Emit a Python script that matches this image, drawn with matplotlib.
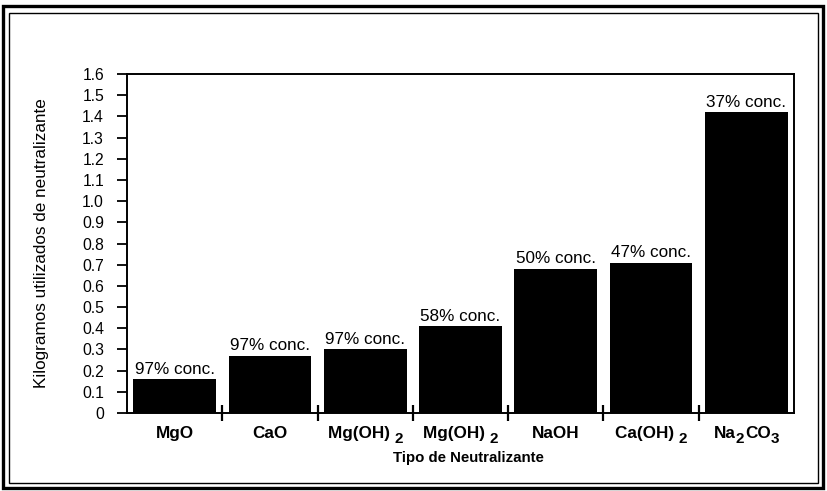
import matplotlib
matplotlib.use("Agg")
import matplotlib.pyplot as plt
from matplotlib.patches import Rectangle
from matplotlib.ticker import FixedLocator
import numpy as np

plt.rcParams['font.family'] = ['Liberation Sans', 'DejaVu Sans']

# "_" marks a subscript character
categories = ['MgO', 'CaO', 'Mg(OH) _2', 'Mg(OH) _2', 'NaOH', 'Ca(OH) _2', 'Na_2CO_3']
values = [0.16, 0.27, 0.30, 0.41, 0.68, 0.71, 1.42]
conc_labels = ['97% conc.', '97% conc.', '97% conc.', '58% conc.', '50% conc.', '47% conc.', '37% conc.']
yticks = [0, 0.1, 0.2, 0.3, 0.4, 0.5, 0.6, 0.7, 0.8, 0.9, 1.0, 1.1, 1.2, 1.3, 1.4, 1.5, 1.6]
ytick_labels = ['0', '0.1', '0.2', '0.3', '0.4', '0.5', '0.6', '0.7', '0.8', '0.9', '1.0',
                '1.1', '1.2', '1.3', '1.4', '1.5', '1.6']

W, H = 827, 491
fig = plt.figure(figsize=(W / 100, H / 100), dpi=100)
AX_L, AX_R, AX_T, AX_B = 127, 794, 74, 413
ax = fig.add_axes([AX_L / W, 1 - AX_B / H, (AX_R - AX_L) / W, (AX_B - AX_T) / H])

x = np.arange(len(categories))
ax.bar(x, values, width=0.867, color='black', edgecolor='black', linewidth=0)

for xi, v, t in zip(x, values, conc_labels):
    ax.text(xi, v + 0.012, t, ha='center', va='bottom', fontsize=12.3)

ax.set_xlim(-0.5, 6.5)
ax.set_ylim(0, 1.6)
ax.set_yticks(yticks)
ax.set_yticklabels(ytick_labels, fontsize=11.3)
ax.tick_params(axis='y', direction='out', length=7.5, width=1.3, pad=9)

ax.set_xticks(x)
ax.set_xticklabels([''] * len(x))
ax.tick_params(axis='x', which='major', length=0)
ax.xaxis.set_minor_locator(FixedLocator(np.arange(0.5, 6.0, 1.0)))
ax.tick_params(axis='x', which='minor', direction='inout', length=12, width=1.6)

for s in ax.spines.values():
    s.set_linewidth(1.4)

ax.set_xlabel('Tipo de Neutralizante', fontsize=10.8, fontweight='bold')
ax.xaxis.set_label_coords((468 - AX_L) / (AX_R - AX_L), -(458 - AX_B) / (AX_B - AX_T))
ax.xaxis.label.set_va('center')
ax.set_ylabel('Kilogramos utilizados de neutralizante', fontsize=12.3)
ax.yaxis.set_label_coords((42 - AX_L) / (AX_R - AX_L), 0.5)
ax.yaxis.label.set_va('center')

# category labels with lowered subscripts, placed in pixel coordinates
fig.canvas.draw()
renderer = fig.canvas.get_renderer()
label_fs = 12.3
sub_fs = 11.0
base_y = H - 438  # baseline in display pixels (from bottom)
for xi, lab in zip(x, categories):
    parts = []
    i = 0
    buf = ''
    while i < len(lab):
        if lab[i] == '_' and i + 1 < len(lab):
            if buf:
                parts.append((buf, False))
                buf = ''
            parts.append((lab[i + 1], True))
            i += 2
        else:
            buf += lab[i]
            i += 1
    if buf:
        parts.append((buf, False))
    texts = []
    widths = []
    for txt, sub in parts:
        t = fig.text(0, 0, txt, fontsize=sub_fs if sub else label_fs, fontweight='bold',
                     ha='left', va='baseline', transform=None)
        bb = t.get_window_extent(renderer)
        texts.append((t, sub))
        widths.append(bb.width)
    cx = ax.transData.transform((xi, 0))[0]
    total = sum(widths)
    start = cx - total / 2
    for (t, sub), w in zip(texts, widths):
        t.set_position((start, base_y - (5 if sub else 0)))
        start += w + (1 if sub else 0)

# double frame around the figure
fig.patches.append(Rectangle((3 / W, 3 / H), (823 - 3) / W, 482 / H,
                             transform=fig.transFigure, fill=False, edgecolor='black', linewidth=2.4))
fig.patches.append(Rectangle((9 / W, 8 / H), (818 - 9) / W, 470 / H,
                             transform=fig.transFigure, fill=False, edgecolor='black', linewidth=1.0))

fig.savefig('out.png', dpi=100)
